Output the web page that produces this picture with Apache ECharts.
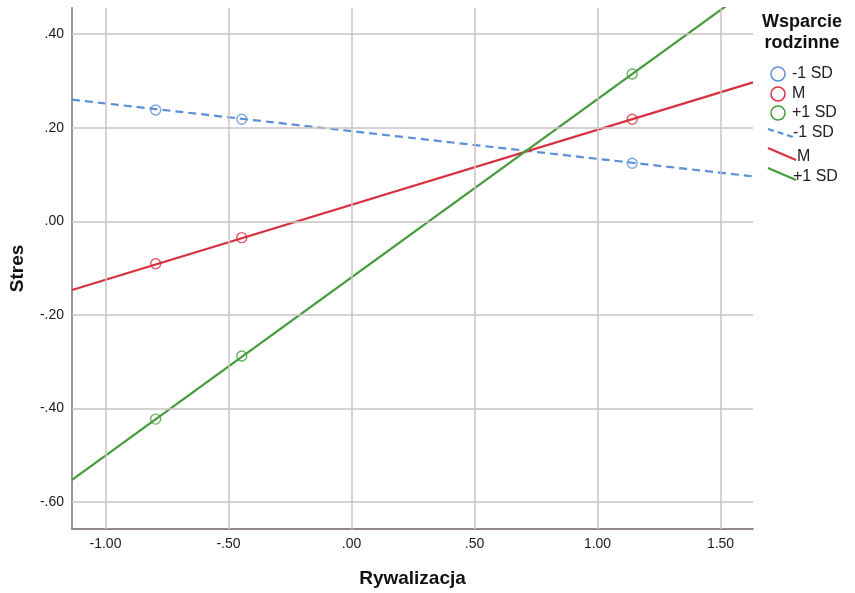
<!DOCTYPE html>
<html>
<head>
<meta charset="utf-8">
<script src="https://cdn.jsdelivr.net/npm/echarts@6/dist/echarts.min.js"></script>
<style>html,body{margin:0;padding:0;background:#fff;}#c{width:855px;height:593px;}</style>
</head>
<body>
<div id="c"></div>
<script>
// ---- data ----
const groups = ['-1 SD', 'M', '+1 SD'];
const pointX = [-0.796, -0.446, 1.141];
const pointsLow = [0.238, 0.218, 0.124];
const pointsMid = [-0.091, -0.035, 0.218];
const pointsHigh = [-0.423, -0.288, 0.315];
const lineX = [-1.136, 1.632];
const lineLow = [0.260, 0.096];
const lineMid = [-0.147, 0.297];
const lineHigh = [-0.553, 0.502];
const xTicks = [-1.0, -0.5, 0.0, 0.5, 1.0, 1.5];
const yTicks = [-0.6, -0.4, -0.2, 0.0, 0.2, 0.4];
const xRange = [-1.136, 1.632];
const yRange = [-0.658, 0.456];
const legendTitle = 'Wsparcie\nrodzinne';
const xTitle = 'Rywalizacja';
const yTitle = 'Stres';

const colors = ['#5b8fd8', '#d7303f', '#449b3b'];

function fmt(v) {
  let s = Math.abs(v).toFixed(2);
  if (s.charAt(0) === '0') s = s.slice(1);
  return (v < -1e-9 ? '-' : '') + s;
}
function pairs(xs, ys) { return xs.map((x, i) => [x, ys[i]]); }

const pointSets = [pointsLow, pointsMid, pointsHigh];
const lineSets = [lineLow, lineMid, lineHigh];

const series = [];
// grid lines
series.push({
  type: 'line', data: [], z: 1, silent: true,
  markLine: {
    silent: true, symbol: ['none', 'none'], animation: false,
    label: { show: false },
    lineStyle: { color: '#cbc2c2', width: 1.5, type: 'solid' },
    emphasis: { disabled: true },
    data: xTicks.map(v => ({ xAxis: v })).concat(yTicks.map(v => ({ yAxis: v })))
  }
});
lineSets.forEach((ys, i) => {
  series.push({
    type: 'line', name: groups[i] + ' line', data: pairs(lineX, ys),
    showSymbol: false, clip: true, z: 3, animation: false,
    lineStyle: { color: colors[i], width: 2.2, type: i === 0 ? [8, 5] : 'solid' }
  });
});
pointSets.forEach((ys, i) => {
  series.push({
    type: 'scatter', name: groups[i], data: pairs(pointX, ys),
    symbol: 'circle', symbolSize: 10, z: 4, animation: false,
    itemStyle: { color: 'rgba(255,255,255,0)', borderColor: colors[i], borderWidth: 1.4 }
  });
});

// legend graphics
const lg = [];
lg.push({ type: 'text', left: 762, top: 12, style: { text: legendTitle, font: 'bold 18px "Liberation Sans", Arial, sans-serif', fill: '#111', textAlign: 'center', lineHeight: 21, x: 0 } });
const lgText = (t, x, y) => ({ type: 'text', x: x, y: y, style: { text: t, font: '16px "Liberation Sans", Arial, sans-serif', fill: '#222', textVerticalAlign: 'middle' } });
const circY = [74, 94, 113];
groups.forEach((g, i) => {
  lg.push({ type: 'circle', shape: { cx: 778, cy: circY[i], r: 7 }, style: { fill: 'none', stroke: colors[i], lineWidth: 1.5 } });
  lg.push(lgText(g, 792, circY[i]));
});
const lineY = [[129, 138], [148, 160], [168, 180]];
const textY = [133, 157, 177];
groups.forEach((g, i) => {
  lg.push({ type: 'line', shape: { x1: 768, y1: lineY[i][0], x2: 796, y2: lineY[i][1] }, style: { stroke: colors[i], lineWidth: 2.2, lineDash: i === 0 ? [6, 4] : null } });
  lg.push(lgText(g, i === 1 ? 797 : 793, textY[i]));
});

const chart = echarts.init(document.getElementById('c'), null, { renderer: 'canvas' });
chart.setOption({
  backgroundColor: '#ffffff',
  animation: false,
  grid: { left: 72, right: 102, top: 8, bottom: 64, containLabel: false, outerBoundsMode: 'none' },
  xAxis: {
    type: 'value', min: xRange[0], max: xRange[1],
    name: xTitle, nameLocation: 'middle', nameGap: 40,
    nameTextStyle: { fontFamily: '"Liberation Sans", Arial, sans-serif', fontWeight: 'bold', fontSize: 19, color: '#111' },
    axisLine: { show: true, onZero: false, lineStyle: { color: '#938888', width: 1.8 } },
    axisTick: { show: false },
    splitLine: { show: false },
    axisLabel: { customValues: xTicks, formatter: fmt, margin: 8, fontFamily: '"Liberation Sans", Arial, sans-serif', fontSize: 14, color: '#1a1a1a' }
  },
  yAxis: {
    type: 'value', min: yRange[0], max: yRange[1],
    name: yTitle, nameLocation: 'middle', nameGap: 45, nameRotate: 90,
    nameTextStyle: { fontFamily: '"Liberation Sans", Arial, sans-serif', fontWeight: 'bold', fontSize: 19, color: '#111' },
    axisLine: { show: true, onZero: false, lineStyle: { color: '#938888', width: 1.8 } },
    axisTick: { show: false },
    splitLine: { show: false },
    axisLabel: { customValues: yTicks, formatter: fmt, margin: 8, fontFamily: '"Liberation Sans", Arial, sans-serif', fontSize: 14, color: '#1a1a1a' }
  },
  series: series,
  graphic: lg
});
</script>
</body>
</html>
